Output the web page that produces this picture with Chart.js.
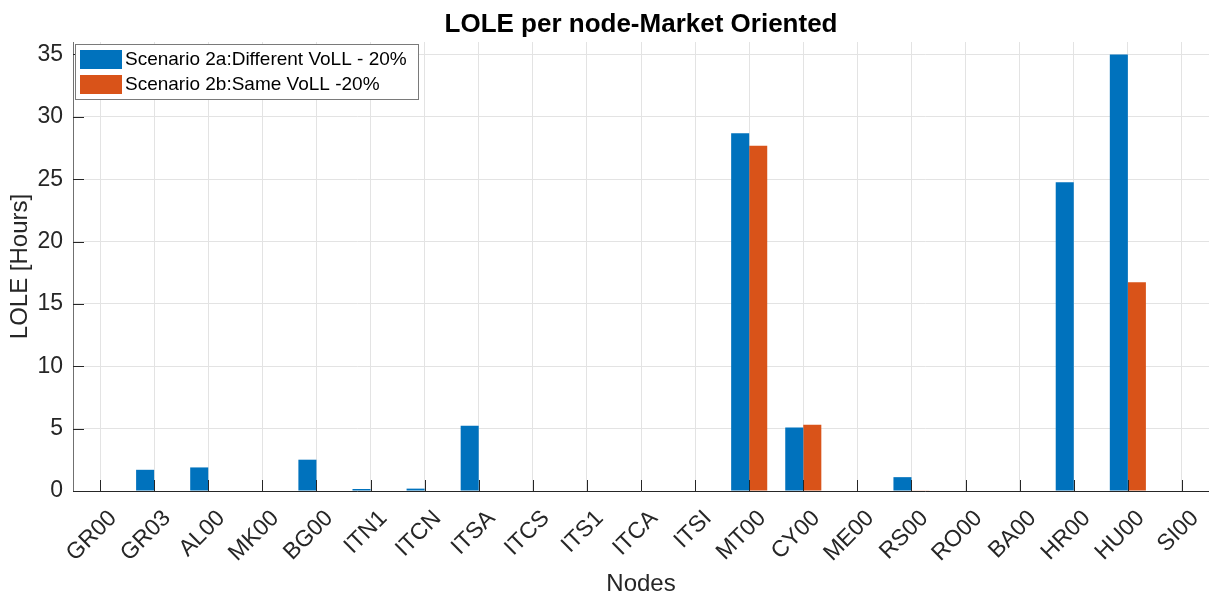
<!DOCTYPE html>
<html>
<head>
<meta charset="utf-8">
<title>LOLE per node</title>
<script src="https://cdn.jsdelivr.net/npm/chart.js@4.4.1/dist/chart.umd.min.js"></script>
<style>
    html, body { margin: 0; padding: 0; background: #ffffff; }
    #wrap { width: 1209px; height: 601px; position: relative; }
</style>
</head>
<body>
<div id="wrap"><canvas id="lole"></canvas></div>
<script>
// LOLE results per bidding zone, in hours
const nodes = ['GR00', 'GR03', 'AL00', 'MK00', 'BG00', 'ITN1', 'ITCN', 'ITSA', 'ITCS', 'ITS1', 'ITCA',
    'ITSI', 'MT00', 'CY00', 'ME00', 'RS00', 'RO00', 'BA00', 'HR00', 'HU00', 'SI00'];
const scenario2a = [0, 1.7, 1.89, 0, 2.51, 0.16, 0.19, 5.24, 0, 0, 0,
    0, 28.68, 5.1, 0, 1.11, 0, 0, 24.76, 35, 0];
const scenario2b = [0, 0, 0, 0, 0, 0, 0, 0, 0, 0, 0,
    0, 27.68, 5.31, 0, 0.05, 0, 0, 0, 16.73, 0];
const seriesNames = ['Scenario 2a:Different VoLL - 20%', 'Scenario 2b:Same VoLL -20%'];
const yTicks = [0, 5, 10, 15, 20, 25, 30, 35];

const FONT = "'Liberation Sans', Arial, Helvetica, sans-serif";
const INK = '#262626';

// title, inward tick marks and the boxed legend in the upper left corner
const matlabLook = {
    id: 'matlabLook',
    afterDatasetsDraw(chart) {
        const ctx = chart.ctx;
        const area = chart.chartArea;
        const xs = chart.scales.x;
        const ys = chart.scales.y;

        ctx.save();
        ctx.strokeStyle = INK;
        ctx.lineWidth = 1;
        ctx.beginPath();
        for (let i = 0; i < nodes.length; i++) {
            const px = Math.round(xs.getPixelForTick(i)) + 0.5;
            ctx.moveTo(px, area.bottom);
            ctx.lineTo(px, area.bottom - 11);
        }
        yTicks.forEach(v => {
            const py = Math.round(ys.getPixelForValue(v)) + 0.5;
            ctx.moveTo(area.left, py);
            ctx.lineTo(area.left + 11, py);
        });
        ctx.stroke();

        // legend
        const lx = 75.5, ly = 44.5, lw = 343, lh = 55;
        ctx.fillStyle = '#ffffff';
        ctx.fillRect(lx, ly, lw, lh);
        ctx.strokeStyle = '#7a7a7a';
        ctx.strokeRect(lx, ly, lw, lh);
        ctx.font = '19px ' + FONT;
        ctx.textBaseline = 'middle';
        ctx.textAlign = 'left';
        chart.data.datasets.forEach((ds, i) => {
            const rowY = 50 + i * 25;
            ctx.fillStyle = ds.backgroundColor;
            ctx.fillRect(80, rowY, 42, 19);
            ctx.fillStyle = '#000000';
            ctx.fillText(ds.label, 125, rowY + 10);
        });

        // title
        ctx.font = 'bold 26px ' + FONT;
        ctx.fillStyle = '#000000';
        ctx.textAlign = 'center';
        ctx.textBaseline = 'alphabetic';
        ctx.fillText('LOLE per node-Market Oriented', (area.left + area.right) / 2, 32);
        ctx.restore();
    }
};

const config = {
    type: 'bar',
    data: {
        labels: nodes,
        datasets: [
            {
                label: seriesNames[0],
                data: scenario2a,
                backgroundColor: '#0072BD',
                borderWidth: 0,
                categoryPercentage: 0.667,
                barPercentage: 1.0
            },
            {
                label: seriesNames[1],
                data: scenario2b,
                backgroundColor: '#D95319',
                borderWidth: 0,
                categoryPercentage: 0.667,
                barPercentage: 1.0
            }
        ]
    },
    options: {
        responsive: true,
        maintainAspectRatio: false,
        animation: false,
        layout: {
            autoPadding: false,
            padding: { top: 42, left: 0, right: 0, bottom: 0 }
        },
        plugins: {
            legend: { display: false },
            title: { display: false },
            tooltip: { enabled: false }
        },
        scales: {
            x: {
                offset: true,
                grid: { offset: false, color: '#e3e3e3', drawTicks: false },
                border: { display: true, color: INK, width: 1 },
                ticks: {
                    autoSkip: false,
                    minRotation: 45,
                    maxRotation: 45,
                    padding: 14,
                    labelOffset: 13,
                    color: INK,
                    font: { family: FONT, size: 23 }
                },
                title: {
                    display: true,
                    text: 'Nodes',
                    color: INK,
                    padding: { top: 0, bottom: 2 },
                    font: { family: FONT, size: 24 }
                },
                afterFit(scale) {
                    scale.height = 110;
                    scale.paddingLeft = 0;
                    scale.paddingRight = 0;
                }
            },
            y: {
                min: 0,
                max: 36,
                grid: { color: '#e3e3e3', drawTicks: false },
                border: { display: true, color: '#707070', width: 1 },
                ticks: {
                    stepSize: 5,
                    includeBounds: false,
                    padding: 10,
                    color: INK,
                    font: { family: FONT, size: 23 }
                },
                title: {
                    display: true,
                    text: 'LOLE [Hours]',
                    color: INK,
                    padding: { top: 6, bottom: 0 },
                    font: { family: FONT, size: 24 }
                },
                afterFit(scale) {
                    scale.width = 73;
                    scale.paddingTop = 0;
                    scale.paddingBottom = 0;
                }
            }
        }
    },
    plugins: [matlabLook]
};

new Chart(document.getElementById('lole').getContext('2d'), config);
</script>
</body>
</html>
